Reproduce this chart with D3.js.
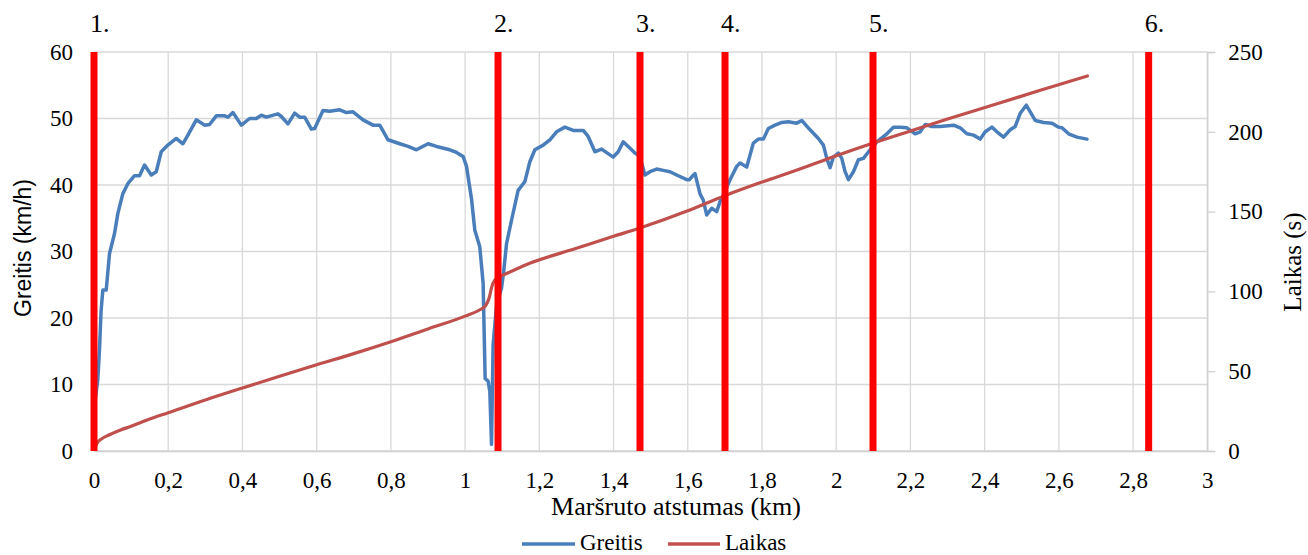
<!DOCTYPE html>
<html>
<head>
<meta charset="utf-8">
<script src="https://cdn.jsdelivr.net/npm/d3@7"></script>
<style>
  html, body { margin: 0; padding: 0; background: #fff; }
  svg { display: block; }
</style>
</head>
<body>
<svg id="chart" width="1308" height="555"></svg>
<script>
// Distance along the route (km) and speed (km/h)
const speedKm = [0.004,0.0102,0.0148,0.019,0.0237,0.0329,0.0418,0.0553,0.0642,0.0777,0.0912,0.1092,0.1227,0.1362,0.1543,0.1677,0.1812,0.199,0.2217,0.2395,0.253,0.2756,0.298,0.3115,0.3296,0.352,0.3608,0.3743,0.397,0.4194,0.4374,0.4509,0.4644,0.4957,0.5049,0.5227,0.5407,0.5542,0.5677,0.5858,0.5947,0.617,0.6351,0.6621,0.6802,0.698,0.7249,0.7519,0.77,0.7923,0.8239,0.8463,0.8689,0.9002,0.9229,0.9587,0.9768,0.9946,1.0038,1.0173,1.0262,1.0396,1.0486,1.054,1.062,1.0666,1.0712,1.0755,1.085,1.0982,1.104,1.1117,1.1251,1.1429,1.161,1.1745,1.188,1.2104,1.2284,1.2465,1.2689,1.2913,1.3183,1.3317,1.3498,1.3678,1.3991,1.4126,1.4261,1.4396,1.4577,1.4711,1.4846,1.4981,1.5162,1.534,1.5521,1.5701,1.5971,1.6046,1.6149,1.6195,1.6329,1.6419,1.651,1.6645,1.678,1.6869,1.6958,1.7139,1.7319,1.7408,1.7589,1.7767,1.7902,1.8037,1.8172,1.8352,1.8533,1.8711,1.8937,1.9072,1.9296,1.952,1.9655,1.9746,1.9835,1.9924,2.0059,2.015,2.024,2.0329,2.0464,2.0599,2.0734,2.0914,2.1095,2.1365,2.1543,2.1723,2.1904,2.2128,2.2263,2.2398,2.2578,2.2802,2.3161,2.3342,2.3522,2.37,2.3881,2.4016,2.4196,2.4331,2.451,2.469,2.4825,2.496,2.5121,2.5229,2.5364,2.5588,2.5815,2.5993,2.6084,2.6262,2.6489,2.6758];
const speedKmh = [8,10.7,15.2,21,24.2,24.2,29.7,32.7,35.7,38.7,40.2,41.4,41.4,43,41.5,42,45,46,47,46.2,47.5,49.8,49,49.1,50.4,50.4,50.2,50.9,49,50,50,50.5,50.2,50.7,50.3,49.2,50.8,50.2,50.2,48.4,48.5,51.2,51.1,51.3,50.9,51,49.8,49,49,46.8,46.2,45.8,45.3,46.2,45.8,45.3,44.9,44.3,42.8,37.9,33.2,30.7,25.2,10.9,10.5,9,1,16,22,24.5,27,31.2,34.7,39.2,40.5,43.5,45.3,46,46.8,48,48.7,48.2,48.2,47.3,45,45.4,44.2,45,46.5,45.8,44.8,44.3,41.5,42,42.4,42.2,42,41.5,40.8,40.8,41.5,41.7,38.7,37.7,35.5,36.5,36,37.5,38.5,40.8,42.8,43.3,42.7,46.3,46.9,46.9,48.5,49,49.4,49.5,49.3,49.7,48.3,47,46,44,42.6,44.2,44.8,44,42,40.8,42,43.8,44,45.3,46.5,47.7,48.7,48.7,48.6,47.7,48,49.1,48.8,48.8,49,48.6,47.7,47.5,46.9,48,48.7,48,47.2,48.3,48.8,50.8,52,51,49.7,49.4,49.3,48.7,48.6,47.7,47.2,46.9];

// Distance along the route (km) and elapsed time (s)
const timeKm = [0,0.005,0.01,0.02,0.04,0.07,0.1,0.15,0.2,0.3,0.4,0.5,0.6,0.7,0.8,0.9,1.0,1.04,1.055,1.065,1.072,1.08,1.09,1.103,1.174,1.3,1.4,1.471,1.6,1.7,1.8,1.9,2.0,2.1,2.2,2.3,2.44,2.55,2.677];
const timeSec = [1,3.5,5.5,7.5,10,13,15.5,20,24,32,39.5,46.8,54,61,68.5,76.5,84.5,88.5,91,96,103,107,109,110.3,117.6,127,134.5,139.7,150.5,160,168.5,176.5,185,193,200.5,208,218,226,235];

// Route checkpoints (km) and their labels
const markKm = [0, 1.0887, 1.4713, 1.7004, 2.0992, 2.842];
const markLabels = ["1.", "2.", "3.", "4.", "5.", "6."];

// Axis ticks
const xTicks = [0,0.2,0.4,0.6,0.8,1,1.2,1.4,1.6,1.8,2,2.2,2.4,2.6,2.8,3];
const speedTicks = [0,10,20,30,40,50,60];
const timeTicks = [0,50,100,150,200,250];

const seriesNames = ["Greitis", "Laikas"];

const SERIF = "Liberation Serif, Times New Roman, Tinos, DejaVu Serif, serif";
const SANS = "Liberation Sans, Arial, sans-serif";

const svg = d3.select("#chart");
const plot = { left: 94, right: 1207.3, top: 52, bottom: 451 };

const x = d3.scaleLinear().domain([0, 3]).range([plot.left, plot.right]);
const yL = d3.scaleLinear().domain([0, 60]).range([plot.bottom, plot.top]);
const yR = d3.scaleLinear().domain([0, 250]).range([plot.bottom, plot.top]);

const fmt = d => String(d).replace(".", ",");

// Gridlines
const grid = svg.append("g").attr("stroke", "#d9d9d9").attr("stroke-width", 1.3);
grid.selectAll("line.v").data(xTicks).join("line").attr("class", "v")
  .attr("x1", d => x(d)).attr("x2", d => x(d)).attr("y1", plot.top).attr("y2", plot.bottom);
grid.selectAll("line.h").data(speedTicks).join("line").attr("class", "h")
  .attr("x1", plot.left).attr("x2", plot.right).attr("y1", d => yL(d)).attr("y2", d => yL(d));

function styleTicks(g) {
  g.attr("font-family", SERIF).attr("font-size", 23);
  g.selectAll("text").attr("font-family", SERIF).attr("font-size", 23).attr("fill", "#000");
}

// Bottom axis
const xAxis = d3.axisBottom(x).tickValues(xTicks).tickFormat(fmt).tickSize(0).tickPadding(21);
const gx = svg.append("g").attr("transform", `translate(0,${plot.bottom})`).call(xAxis);
gx.select(".domain").attr("stroke", "#d0d0d0").attr("stroke-width", 1.3);
styleTicks(gx);

// Left axis
const yAxisL = d3.axisLeft(yL).tickValues(speedTicks).tickSize(0).tickPadding(21);
const gl = svg.append("g").attr("transform", `translate(${plot.left},0)`).call(yAxisL);
gl.select(".domain").remove();
styleTicks(gl);

// Right axis
const yAxisR = d3.axisRight(yR).tickValues(timeTicks).tickSize(8).tickPadding(13);
const gr = svg.append("g").attr("transform", `translate(${plot.right},0)`).call(yAxisR);
gr.select(".domain").attr("stroke", "#d0d0d0").attr("stroke-width", 1.3);
gr.selectAll(".tick line").attr("stroke", "#d0d0d0").attr("stroke-width", 1.3);
styleTicks(gr);

// Series lines
const speedLine = d3.line().x((d, i) => x(speedKm[i])).y(d => yL(d)).curve(d3.curveLinear);
svg.append("path").datum(speedKmh)
  .attr("fill", "none").attr("stroke", "#4a7ebb").attr("stroke-width", 3.5)
  .attr("stroke-linejoin", "round").attr("stroke-linecap", "round")
  .attr("d", speedLine);

const timeLine = d3.line().x((d, i) => x(timeKm[i])).y(d => yR(d)).curve(d3.curveMonotoneX);
svg.append("path").datum(timeSec)
  .attr("fill", "none").attr("stroke", "#c0504d").attr("stroke-width", 3.2)
  .attr("stroke-linecap", "round")
  .attr("d", timeLine);

// Checkpoint bars
svg.append("g").selectAll("rect").data(markKm).join("rect")
  .attr("x", d => x(d) - 3.5).attr("width", 7)
  .attr("y", plot.top).attr("height", plot.bottom - plot.top)
  .attr("fill", "#ff0000");

svg.append("g").selectAll("text").data(markKm).join("text")
  .attr("font-family", SERIF).attr("font-size", 26)
  .attr("x", d => x(d) - 4).attr("y", 32)
  .text((d, i) => markLabels[i]);

// Axis titles
svg.append("text").attr("font-family", SANS).attr("font-size", 23)
  .attr("text-anchor", "middle")
  .attr("transform", "translate(31,248) rotate(-90)")
  .text("Greitis (km/h)");

svg.append("text").attr("font-family", SERIF).attr("font-size", 25)
  .attr("text-anchor", "middle")
  .attr("transform", "translate(1301,262) rotate(-90)")
  .text("Laikas (s)");

svg.append("text").attr("font-family", SERIF).attr("font-size", 26)
  .attr("text-anchor", "middle")
  .attr("x", 676).attr("y", 515)
  .text("Maršruto atstumas (km)");

// Legend
const legend = svg.append("g");
const legendItems = [
  { name: seriesNames[0], color: "#4a7ebb", x1: 522, x2: 575, tx: 580 },
  { name: seriesNames[1], color: "#c0504d", x1: 668, x2: 720, tx: 725 }
];
legend.selectAll("line").data(legendItems).join("line")
  .attr("x1", d => d.x1).attr("x2", d => d.x2).attr("y1", 544).attr("y2", 544)
  .attr("stroke", d => d.color).attr("stroke-width", 3.5);
legend.selectAll("text").data(legendItems).join("text")
  .attr("font-family", SERIF).attr("font-size", 23)
  .attr("x", d => d.tx).attr("y", 550)
  .text(d => d.name);
</script>
</body>
</html>
